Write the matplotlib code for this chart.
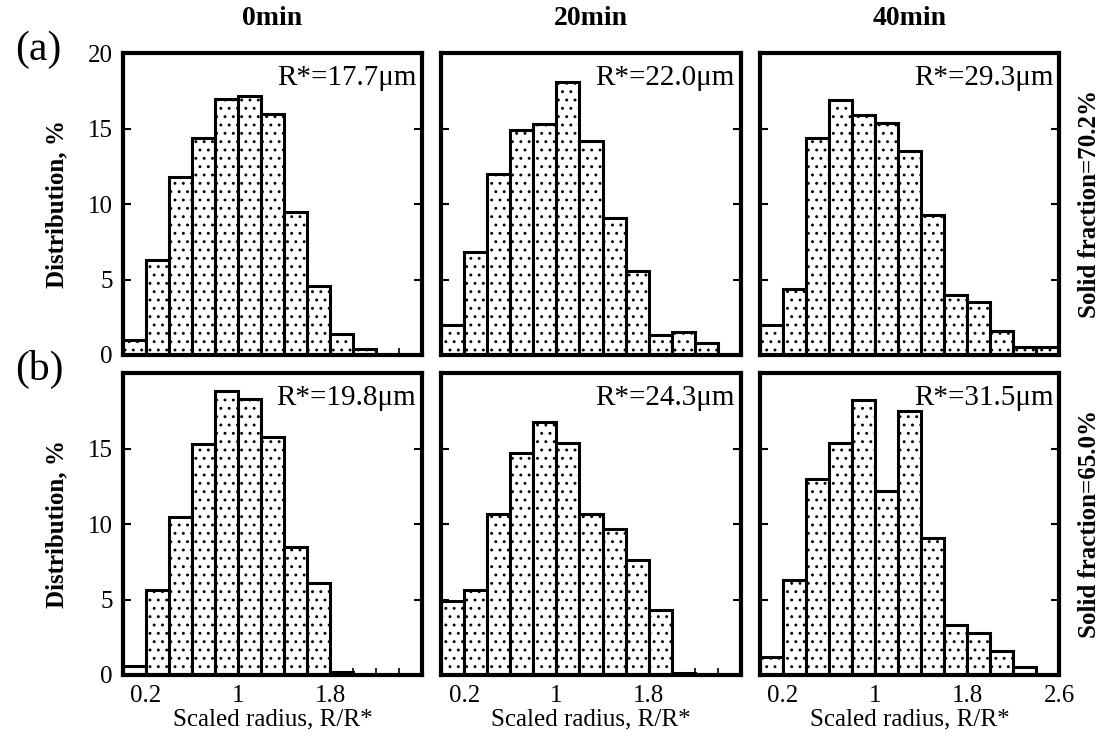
import numpy as np
import matplotlib
matplotlib.use("Agg")
import matplotlib.pyplot as plt

plt.rcParams["font.family"] = ["Liberation Serif", "DejaVu Serif"]
plt.rcParams["hatch.linewidth"] = 0.9
plt.rcParams["hatch.color"] = "black"

BIN_EDGES = np.arange(0, 2.6, 0.2)
BIN_WIDTH = 0.2

TIMES = ["0min", "20min", "40min"]
R_STAR_A = ["R*=17.7μm", "R*=22.0μm", "R*=29.3μm"]
R_STAR_B = ["R*=19.8μm", "R*=24.3μm", "R*=31.5μm"]

# row (a): solid fraction 70.2 %
dist_a_0 = [1.0, 6.3, 11.8, 14.4, 17.0, 17.2, 16.0, 9.5, 4.6, 1.4, 0.4, 0, 0]
dist_a_20 = [2.0, 6.8, 12.0, 14.9, 15.3, 18.1, 14.2, 9.1, 5.6, 1.3, 1.5, 0.8, 0]
dist_a_40 = [2.0, 4.4, 14.4, 16.9, 15.9, 15.4, 13.5, 9.3, 4.0, 3.5, 1.6, 0.5, 0.5]
# row (b): solid fraction 65.0 %
dist_b_0 = [0.6, 5.6, 10.5, 15.3, 18.8, 18.3, 15.8, 8.5, 6.1, 0.2, 0, 0, 0]
dist_b_20 = [4.9, 5.6, 10.7, 14.7, 16.8, 15.4, 10.7, 9.7, 7.6, 4.3, 0.1, 0, 0]
dist_b_40 = [1.2, 6.3, 13.0, 15.4, 18.2, 12.2, 17.5, 9.1, 3.3, 2.8, 1.6, 0.5, 0]

ROWS = [
    ("(a)", [dist_a_0, dist_a_20, dist_a_40], R_STAR_A, "Solid fraction=70.2%"),
    ("(b)", [dist_b_0, dist_b_20, dist_b_40], R_STAR_B, "Solid fraction=65.0%"),
]

fig = plt.figure(figsize=(11.14, 7.45), dpi=100)

lefts = [0.110, 0.396, 0.682]
bottoms = [0.5235, 0.094]
w, h = 0.269, 0.405

for r, (tag, dists, rstars, sf) in enumerate(ROWS):
    for c in range(3):
        ax = fig.add_axes([lefts[c], bottoms[r], w, h])
        vals = np.array(dists[c], dtype=float)
        keep = vals > 0
        ax.bar(BIN_EDGES[keep], vals[keep], width=BIN_WIDTH, align="edge",
               facecolor="white", edgecolor="black", linewidth=2.2, hatch="..")
        ax.set_xlim(0, 2.6)
        ax.set_ylim(0, 20)
        for s in ax.spines.values():
            s.set_linewidth(3)
        ax.tick_params(direction="in", length=6, width=1.5, labelsize=18,
                       top=False, right=True, pad=7)
        ax.set_xticks(np.arange(0, 2.61, 0.2), minor=True)
        ax.tick_params(which="minor", direction="in", length=5, width=1.2)
        if r == 1:
            if c == 2:
                ax.set_xticks([0.2, 1, 1.8, 2.6])
                ax.set_xticklabels(["0.2", "1", "1.8", "2.6"])
            else:
                ax.set_xticks([0.2, 1, 1.8])
                ax.set_xticklabels(["0.2", "1", "1.8"])
            ax.set_xlabel("Scaled radius, R/R*", fontsize=18, labelpad=1)
        else:
            ax.set_xticks([0.2, 1, 1.8])
            ax.set_xticklabels([])
        if c == 0:
            if r == 0:
                ax.set_yticks([0, 5, 10, 15, 20])
            else:
                ax.set_yticks([0, 5, 10, 15])
            ax.set_ylabel("Distribution, %", fontsize=18, fontweight="bold",
                          labelpad=14)
        else:
            ax.set_yticks([0, 5, 10, 15])
            ax.set_yticklabels([])
        ax.text(0.98, 0.96, rstars[c], transform=ax.transAxes, ha="right",
                va="top", fontsize=21)
        if r == 0:
            ax.set_title(TIMES[c], fontsize=20, fontweight="bold", pad=20)
        if c == 2:
            ax.text(1.1, 0.5, sf, transform=ax.transAxes, rotation=90,
                    ha="center", va="center", fontsize=18, fontweight="bold")
    fig.text(0.014, bottoms[r] + h + 0.005, tag, fontsize=30,
             ha="left", va="center")

fig.savefig("out.png", dpi=100)
